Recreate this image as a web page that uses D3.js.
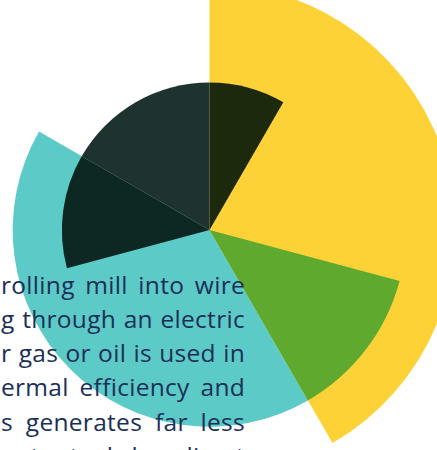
<!DOCTYPE html>
<html>
<head>
<meta charset="utf-8">
<script src="https://cdn.jsdelivr.net/npm/d3@7"></script>
<style>
  body { margin: 0; background: #fff; overflow: hidden; }
</style>
</head>
<body>
<div class="canvas"></div>
<script>
// segments of the rose, outer layers first, inner layers drawn on top
const segments = ['outer-yellow', 'outer-teal', 'slate', 'olive', 'green', 'dark-teal'];
const startDeg = [0, 150, 300, 0, 105, 255];
const endDeg = [150, 300, 360, 30, 150, 300];
const values = [100, 80, 60, 60, 80, 60];
const colors = ['#fdd237', '#5ccac6', '#1e3230', '#1c290c', '#5ea92e', '#0d2723'];

// text that runs over the chart (clipped at the left edge)
const textLines = [
  'rolling mill into wire',
  'g through an electric',
  'r gas or oil is used in',
  'ermal efficiency and',
  's generates far less',
  'ent steel by direct'
];

const width = 437, height = 450;
const cx = 209.5, cy = 230;

const svg = d3.select('.canvas')
    .append('svg')
    .attr('width', width)
    .attr('height', height);

const data = segments.map((name, i) => ({
    name: name,
    start: startDeg[i],
    end: endDeg[i],
    value: values[i],
    color: colors[i]
}));

const r = d3.scaleLinear()
    .domain([0, 100])
    .range([0, 246]);

const angle = d3.scaleLinear()
    .domain([0, 360])
    .range([0, 2 * Math.PI]);

const arc = d3.arc()
    .innerRadius(0)
    .outerRadius(d => r(d.value))
    .startAngle(d => angle(d.start))
    .endAngle(d => angle(d.end));

const g = svg.append('g')
    .attr('transform', `translate(${cx},${cy})`);

g.selectAll('path')
    .data(data)
    .enter()
    .append('path')
    .attr('d', arc)
    .attr('fill', d => d.color);

// justified text block, right edge at x = 245
const left = 1, right = 245, lineH = 34.3, firstBase = 293.5;

const texts = svg.selectAll('text')
    .data(textLines)
    .enter()
    .append('text')
    .attr('x', left)
    .attr('y', (d, i) => firstBase + i * lineH)
    .attr('font-family', '"Open Sans", sans-serif')
    .attr('font-size', 24.5)
    .attr('letter-spacing', 0.3)
    .attr('fill', '#1a2f57')
    .text(d => d);

texts.each(function(d) {
    const len = this.getComputedTextLength();
    const spaces = d.split(' ').length - 1;
    const extra = Math.max(0, (right - left - len) / spaces);
    d3.select(this).attr('word-spacing', extra);
});
</script>
</body>
</html>
